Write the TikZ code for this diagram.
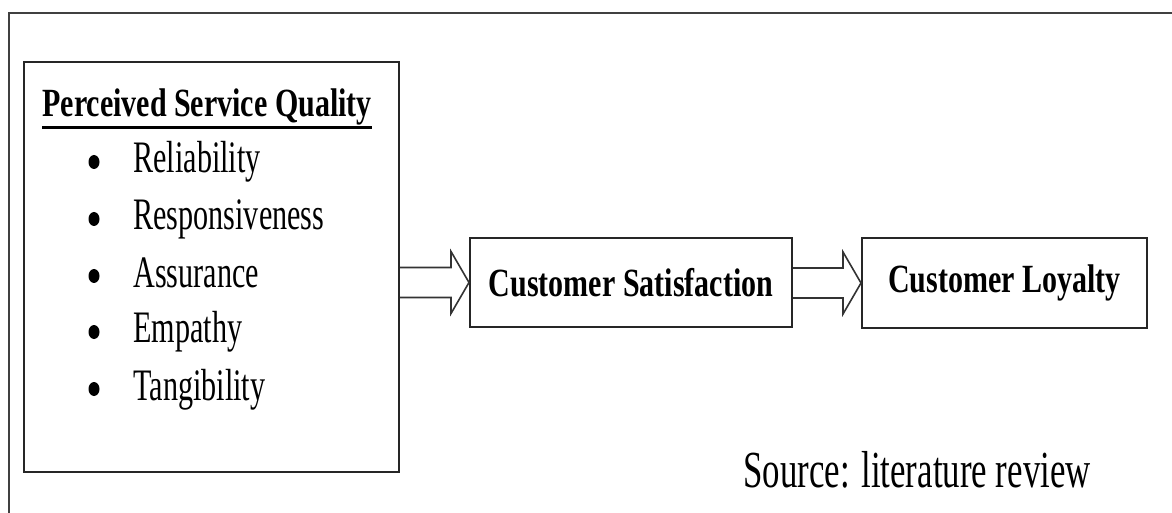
\documentclass[tikz,border=0pt]{standalone}
\usepackage{fontspec}
\setmainfont{Liberation Serif}
\newfontfamily\narrowfont[FakeStretch=0.67]{Liberation Serif}
\newfontfamily\narrowbold[FakeStretch=0.75]{Liberation Serif}
\usetikzlibrary{calc,shapes.geometric}

\tikzset{
  box/.style={draw=black!85, line width=1pt, inner sep=0pt},
  headtext/.style={font=\fontsize{20}{24}\narrowbold\bfseries},
  itemtext/.style={anchor=base west, inner sep=0pt, font=\fontsize{22.5}{27}\narrowfont},
  dotmark/.style={ellipse, fill=black, inner sep=0pt, minimum width=5.5pt, minimum height=7pt},
  hollowarrow/.style={draw=black!80, line width=0.8pt, line join=miter},
  frameline/.style={draw=black!75, line width=1.2pt}
}

\begin{document}
\begin{tikzpicture}[x=0.5pt,y=0.5pt,yscale=-1,xscale=1]
\useasboundingbox (0,0) rectangle (1172,513);

% Frame
\draw[frameline] (9,513) -- (9,13) -- (1172,13);

% Boxes
\node[box, minimum width=187.5pt, minimum height=205pt] (psq) at (211.5,267) {};
\node[box, headtext, minimum width=161pt, minimum height=44.5pt] (cs) at (631,282.5) {Customer Satisfaction};
\node[box, headtext, minimum width=142.5pt, minimum height=45pt] (cl) at (1004.5,283) {Customer Loyalty};

% Title of the first box
\node[headtext, anchor=base west, inner sep=0pt] (psqtitle) at (42,117) {Perceived Service Quality};
\draw[line width=1.5pt] ($(psqtitle.base west)+(0,11)$) -- ($(psqtitle.base east)+(0,11)$);

% Dimensions
\node[dotmark] (d1) at (94,162) {};
\node[itemtext] (reli) at (133,173) {Reliability};
\node[dotmark] (d2) at (94,219) {};
\node[itemtext] (resp) at (133,230) {Responsiveness};
\node[dotmark] (d3) at (94,276) {};
\node[itemtext] (assu) at (133,287) {Assurance};
\node[dotmark] (d4) at (94,332) {};
\node[itemtext] (empa) at (133,343) {Empathy};
\node[dotmark] (d5) at (94,389) {};
\node[itemtext] (tang) at (133,400) {Tangibility};

% Source
\node[itemtext, font=\fontsize{26}{30}\narrowfont] (src) at (743,487) {Source: literature review};

% Connection
\coordinate (a1) at (psq.east |- cs.west);
\draw[hollowarrow] ($(a1)+(0,-15)$) -- ($(cs.west)+(-18,-15)$) -- ($(cs.west)+(-18,-31)$) -- (cs.west) -- ($(cs.west)+(-18,31)$) -- ($(cs.west)+(-18,15)$) -- ($(a1)+(0,15)$);
% Connection
\coordinate (a2) at (cs.east |- cl.west);
\draw[hollowarrow] ($(a2)+(0,-15)$) -- ($(cl.west)+(-18,-15)$) -- ($(cl.west)+(-18,-31)$) -- (cl.west) -- ($(cl.west)+(-18,31)$) -- ($(cl.west)+(-18,15)$) -- ($(a2)+(0,15)$);

\end{tikzpicture}
\end{document}
